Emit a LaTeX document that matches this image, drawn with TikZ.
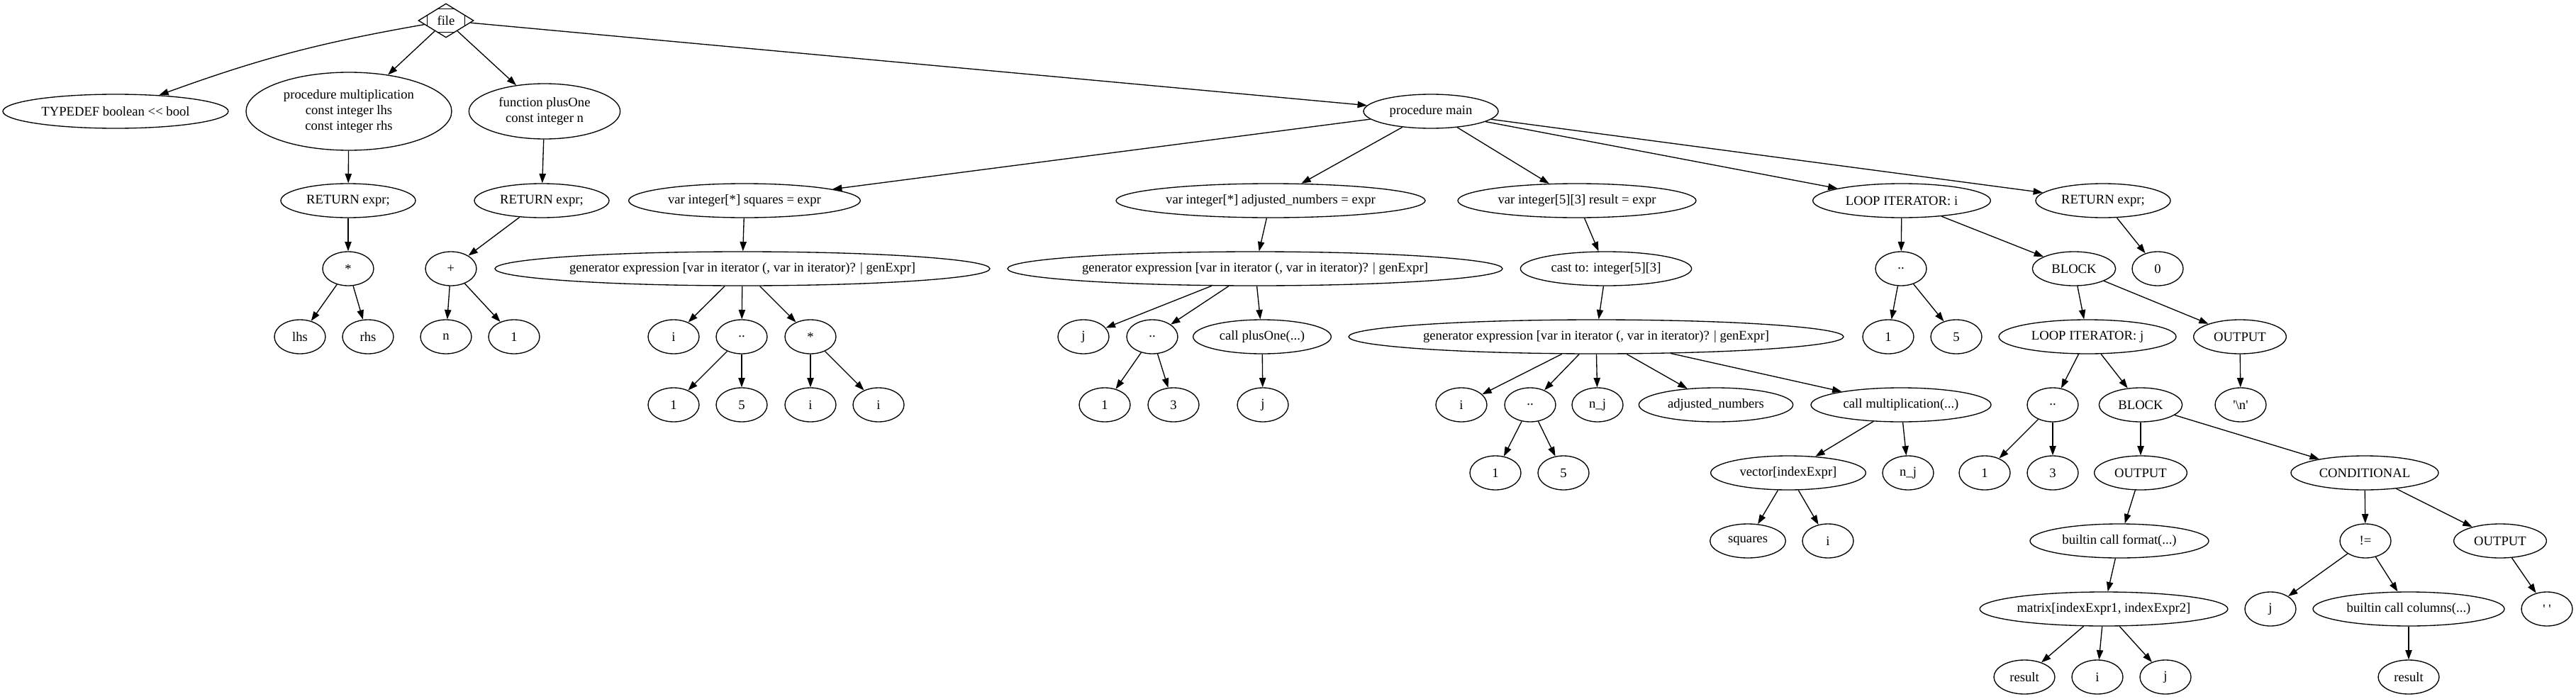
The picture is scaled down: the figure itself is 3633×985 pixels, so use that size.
\documentclass[tikz,border=0pt]{standalone}
\usepackage{fontspec}
\setmainfont{Liberation Serif}[Ligatures=TeXOff]
\usetikzlibrary{shapes.geometric,arrows.meta,calc}
\begin{document}
\begin{tikzpicture}[x=0.75pt,y=-0.75pt,
  font=\fontsize{14}{16.8}\selectfont,
  gv/.style={draw, line width=1pt, ellipse, inner sep=1pt, minimum width=54pt, minimum height=36pt, align=center},
  wd/.style={minimum width=#1},
  e/.style={draw, line width=1pt, -{Triangle[length=10pt,width=7pt]}}]
\useasboundingbox (0,0) rectangle (3633,985);

% rank 0
\node[draw, line width=1pt, diamond, inner sep=0pt, minimum width=58.5pt, minimum height=36pt] (file) at (629,29) {file};
\draw[line width=1pt] ($(file.north)!0.333!(file.east)$) -- ($(file.north)!0.333!(file.west)$);
\draw[line width=1pt] ($(file.south)!0.333!(file.east)$) -- ($(file.south)!0.333!(file.west)$);
\draw[line width=1pt] ($(file.east)!0.333!(file.north)$) -- ($(file.east)!0.333!(file.south)$);
\draw[line width=1pt] ($(file.west)!0.333!(file.north)$) -- ($(file.west)!0.333!(file.south)$);

% rank 1
\node[gv,wd=238.5pt] (typedef) at (163,157) {TYPEDEF boolean << bool};
\node[gv,wd=217.5pt,minimum height=82.5pt] (mult) at (492,157) {procedure multiplication\\const integer lhs\\const integer rhs};
\node[gv,wd=160pt,minimum height=58.5pt] (plusone) at (768,157) {function plusOne\\const integer n};
\node[gv,wd=142.5pt] (main) at (2018,157) {procedure main};

% rank 2
\node[gv,wd=142.5pt] (ret1) at (491,283) {RETURN expr;};
\node[gv,wd=142.5pt] (ret2) at (764,283) {RETURN expr;};
\node[gv,wd=245pt] (varsq) at (1050,283) {var integer[*] squares = expr};
\node[gv,wd=327pt] (varadj) at (1792,283) {var integer[*] adjusted\_numbers = expr};
\node[gv,wd=252pt] (varres) at (2224,283) {var integer[5][3] result = expr};
\node[gv,wd=188pt] (loopi) at (2682,283) {LOOP ITERATOR: i};
\node[gv,wd=142.5pt] (ret3) at (2966,283) {RETURN expr;};

% rank 3
\node[gv] (mulop) at (491,379) {*};
\node[gv] (plusop) at (636,379) {+};
\node[gv,wd=523.5pt] (gensq) at (1047,379) {generator expression [var in iterator (, var in iterator)? | genExpr]};
\node[gv,wd=523.5pt] (genadj) at (1770,379) {generator expression [var in iterator (, var in iterator)? | genExpr]};
\node[gv,wd=181pt] (cast) at (2265,379) {cast to: integer[5][3]};
\node[gv] (rngi) at (2681,379) {..};
\node[gv,wd=88pt] (blocki) at (2925,379) {BLOCK};
\node[gv] (zero) at (3043,379) {0};

% rank 4
\node[gv] (lhs) at (423,475) {lhs};
\node[gv] (rhs) at (519,475) {rhs};
\node[gv] (nn) at (629,475) {n};
\node[gv] (one) at (725,475) {1};
\node[gv] (sqi) at (950,475) {i};
\node[gv] (sqrng) at (1046,475) {..};
\node[gv] (sqmul) at (1143,475) {*};
\node[gv] (adjj) at (1528,475) {j};
\node[gv] (adjrng) at (1625,475) {..};
\node[gv,wd=146pt] (callplus) at (1780,475) {call plusOne(...)};
\node[gv,wd=523.5pt] (genres) at (2251,475) {generator expression [var in iterator (, var in iterator)? | genExpr]};
\node[gv] (rngi1) at (2663,475) {1};
\node[gv] (rngi5) at (2759,475) {5};
\node[gv,wd=187.5pt] (loopj) at (2944,475) {LOOP ITERATOR: j};
\node[gv,wd=98pt] (outnl) at (3159,475) {OUTPUT};

% rank 5
\node[gv] (sq1) at (950,571) {1};
\node[gv] (sq5) at (1046,571) {5};
\node[gv] (sqi1) at (1143,571) {i};
\node[gv] (sqi2) at (1239,571) {i};
\node[gv] (adj1) at (1558,571) {1};
\node[gv] (adj3) at (1655,571) {3};
\node[gv] (adjjj) at (1781,571) {j};
\node[gv] (resi) at (2061,571) {i};
\node[gv] (resrng) at (2158,571) {..};
\node[gv] (resnj) at (2253,571) {n\_j};
\node[gv,wd=163pt] (resadj) at (2420,571) {adjusted\_numbers};
\node[gv,wd=190.5pt] (callmult) at (2681,571) {call multiplication(...)};
\node[gv] (rngj) at (2895,571) {..};
\node[gv,wd=88pt] (blockj) at (3019,571) {BLOCK};
\node[gv] (nl) at (3160,571) {'\textbackslash n'};

% rank 6
\node[gv] (res1) at (2109,667) {1};
\node[gv] (res5) at (2205,667) {5};
\node[gv,wd=164pt] (vec) at (2522,667) {vector[indexExpr]};
\node[gv] (resnj2) at (2691,667) {n\_j};
\node[gv] (rngj1) at (2799,667) {1};
\node[gv] (rngj3) at (2895,667) {3};
\node[gv,wd=98pt] (outfmt) at (3019,667) {OUTPUT};
\node[gv,wd=156pt] (cond) at (3335,667) {CONDITIONAL};

% rank 7
\node[gv,wd=80pt] (squares) at (2465,763) {squares};
\node[gv] (veci) at (2578,763) {i};
\node[gv,wd=189pt] (fmt) at (2989,763) {builtin call format(...)};
\node[gv] (neq) at (3336,763) {!=};
\node[gv,wd=98pt] (outsp) at (3526,763) {OUTPUT};

% rank 8
\node[gv,wd=259.5pt] (matrix) at (2967,859) {matrix[indexExpr1, indexExpr2]};
\node[gv] (cj) at (3202,859) {j};
\node[gv,wd=202.5pt] (cols) at (3397,859) {builtin call columns(...)};
\node[gv] (sp) at (3592,859) {' '};

% rank 9
\node[gv,wd=64.5pt] (mres) at (2855,955) {result};
\node[gv] (mi) at (2958,955) {i};
\node[gv] (mj) at (3054,955) {j};
\node[gv,wd=64.5pt] (cres) at (3397,955) {result};

% edges
\draw[e] (file) to[bend right=5] (typedef);
\foreach \a/\b in {file/mult, file/plusone, file/main,
  mult/ret1, ret1/mulop, mulop/lhs, mulop/rhs,
  plusone/ret2, ret2/plusop, plusop/nn, plusop/one,
  main/varsq, main/varadj, main/varres, main/loopi, main/ret3,
  varsq/gensq, gensq/sqi, gensq/sqrng, gensq/sqmul,
  sqrng/sq1, sqrng/sq5, sqmul/sqi1, sqmul/sqi2,
  varadj/genadj, genadj/adjj, genadj/adjrng, genadj/callplus,
  adjrng/adj1, adjrng/adj3, callplus/adjjj,
  varres/cast, cast/genres, genres/resi, genres/resrng, genres/resnj,
  genres/resadj, genres/callmult, resrng/res1, resrng/res5,
  callmult/vec, callmult/resnj2, vec/squares, vec/veci,
  loopi/rngi, loopi/blocki, rngi/rngi1, rngi/rngi5,
  blocki/loopj, blocki/outnl, outnl/nl,
  loopj/rngj, loopj/blockj, rngj/rngj1, rngj/rngj3,
  blockj/outfmt, blockj/cond, outfmt/fmt, fmt/matrix,
  matrix/mres, matrix/mi, matrix/mj,
  cond/neq, cond/outsp, neq/cj, neq/cols, cols/cres, outsp/sp,
  ret3/zero}
  \draw[e] (\a) -- (\b);
\end{tikzpicture}
\end{document}
